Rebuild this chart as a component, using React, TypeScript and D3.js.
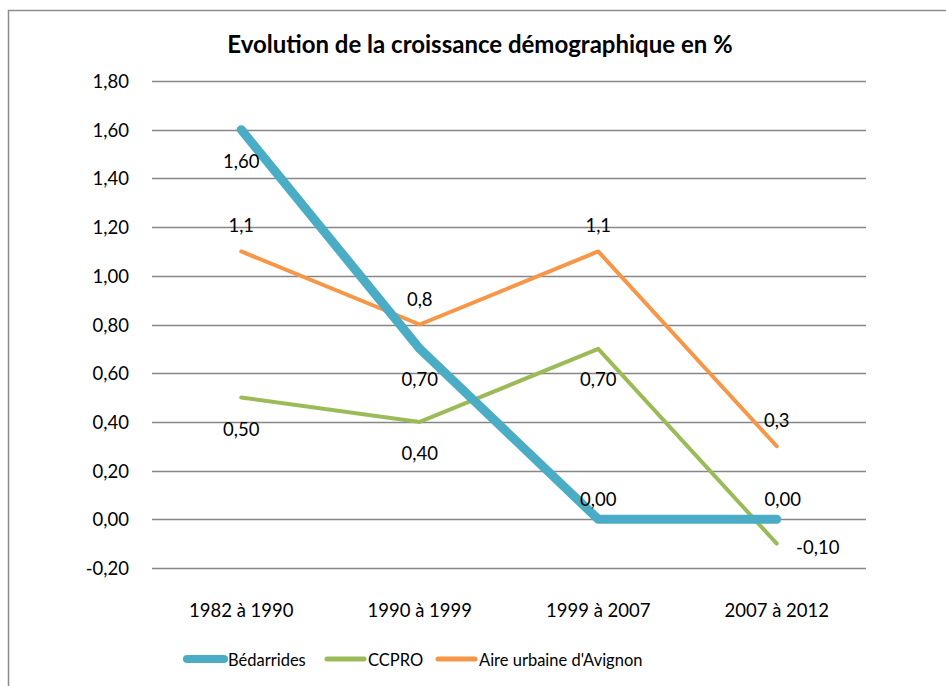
import React, {useEffect, useRef} from 'react'
import * as d3 from 'd3'

const categories = ['1982 à 1990', '1990 à 1999', '1999 à 2007', '2007 à 2012']
const seriesNames = ['Bédarrides', 'CCPRO', "Aire urbaine d'Avignon"]
const bedarrides = [1.6, 0.7, 0, 0]
const ccpro = [0.5, 0.4, 0.7, -0.1]
const avignon = [1.1, 0.8, 1.1, 0.3]
const bedarridesLabels = ['1,60', '0,70', '0,00', '0,00']
const ccproLabels = ['0,50', '0,40', '0,70', '-0,10']
const avignonLabels = ['1,1', '0,8', '1,1', '0,3']
const yTicks = [-0.2, 0, 0.2, 0.4, 0.6, 0.8, 1.0, 1.2, 1.4, 1.6, 1.8]

const W = 946
const H = 686
const font = 'Lato, "Open Sans", sans-serif'

export default function App () {
  const ref = useRef<SVGSVGElement>(null)

  useEffect(() => {
    const svg = d3.select(ref.current)
    svg.selectAll('*').remove()

    // outer frame like the spreadsheet chart area
    svg.append('rect').attr('x', 8.5).attr('y', 10.5).attr('width', 950).attr('height', 700)
      .attr('fill', '#fff').attr('stroke', '#8c8c8c').attr('stroke-width', 1.5)

    svg.append('text').attr('x', 480).attr('y', 53).attr('text-anchor', 'middle')
      .attr('font-family', font).attr('font-weight', 'bold').attr('font-size', 24)
      .attr('font-variant-ligatures', 'none')
      .attr('fill', '#000').text('Evolution de la croissance démographique en %')

    const x = d3.scaleBand().domain(categories).range([152, 866])
    const y = d3.scaleLinear().domain([-0.2, 1.8]).range([568, 81])
    const cx = (i: number) => (x(categories[i]) as number) + x.bandwidth() / 2

    const g = svg.append('g')
    g.selectAll('line.grid').data(yTicks).enter().append('line')
      .attr('x1', 152).attr('x2', 866)
      .attr('y1', d => Math.round(y(d)) + 0.5).attr('y2', d => Math.round(y(d)) + 0.5)
      .attr('stroke', '#868686').attr('stroke-width', 1.3)

    g.selectAll('text.ytick').data(yTicks).enter().append('text')
      .attr('x', 129).attr('y', d => y(d) + 7).attr('text-anchor', 'end')
      .attr('font-family', font).attr('font-size', 18.5).attr('fill', '#000')
      .text(d => d3.format('.2f')(d).replace('.', ',').replace('−', '-'))

    g.selectAll('text.xtick').data(categories).enter().append('text')
      .attr('x', (d, i) => cx(i)).attr('y', 617).attr('text-anchor', 'middle')
      .attr('font-family', font).attr('font-size', 18.5).attr('fill', '#000')
      .text(d => d)

    const series = [
      {values: bedarrides, labels: bedarridesLabels, color: '#4BACC6', width: 9},
      {values: ccpro, labels: ccproLabels, color: '#9BBB59', width: 4},
      {values: avignon, labels: avignonLabels, color: '#F79646', width: 4}
    ]
    // label offsets (dx, dy) from the point, per series
    const offsets = [
      [[0, 38], [0, 37], [0, -13], [6, -13]],
      [[0, 38], [0, 38], [0, 37], [41, 10]],
      [[0, -19], [0, -19], [0, -19], [0, -19]]
    ]

    const line = d3.line<number>().x((d, i) => cx(i)).y(d => y(d))
    series.slice().reverse().forEach(s => {
      g.append('path').attr('d', line(s.values)).attr('fill', 'none')
        .attr('stroke', s.color).attr('stroke-width', s.width)
        .attr('stroke-linejoin', 'round').attr('stroke-linecap', 'round')
    })
    series.forEach((s, si) => {
      s.values.forEach((v, i) => {
        g.append('text').attr('x', cx(i) + offsets[si][i][0]).attr('y', y(v) + offsets[si][i][1])
          .attr('text-anchor', 'middle').attr('font-family', font).attr('font-size', 18.5)
          .attr('fill', '#000').text(s.labels[i])
      })
    })

    // legend
    const legendX = [187, 327, 438]
    series.forEach((s, i) => {
      g.append('line').attr('x1', legendX[i]).attr('x2', legendX[i] + 37)
        .attr('y1', 659).attr('y2', 659).attr('stroke', s.color)
        .attr('stroke-width', s.width === 9 ? 8 : 5).attr('stroke-linecap', 'round')
      g.append('text').attr('x', legendX[i] + 41).attr('y', 666)
        .attr('font-family', font).attr('font-size', 16.5).attr('fill', '#000')
        .text(seriesNames[i])
    })
  }, [])

  return (
    <svg ref={ref} width={W} height={H}
      style={{position: 'absolute', left: 0, top: 0, display: 'block', background: '#fff'}} />
  )
}
